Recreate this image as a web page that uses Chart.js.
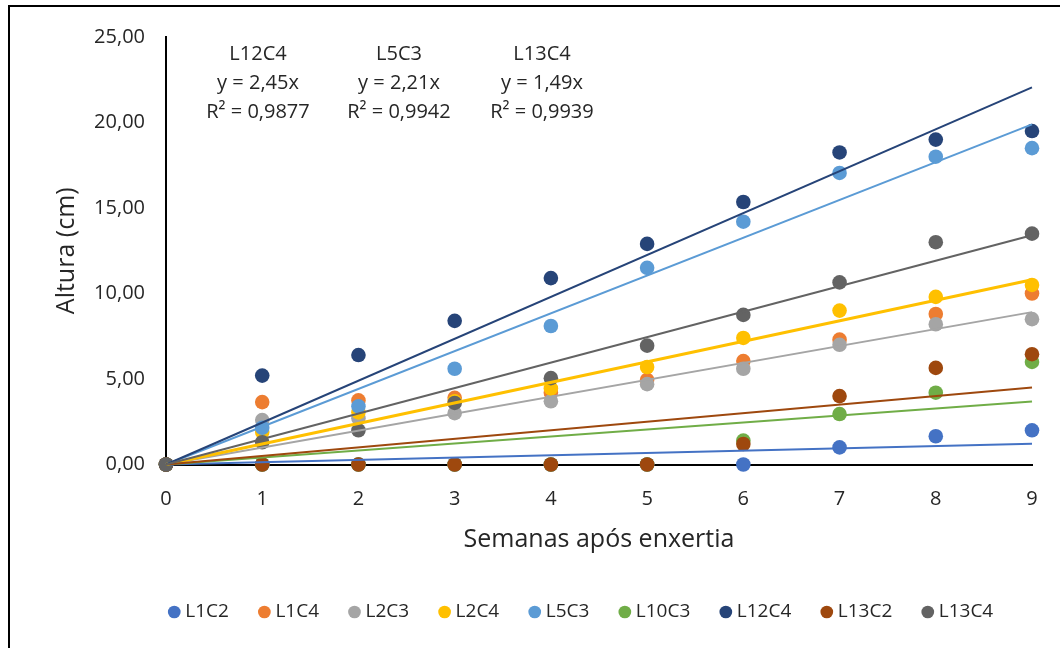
<!DOCTYPE html>
<html>
<head>
<meta charset="utf-8">
<script src="https://cdn.jsdelivr.net/npm/chart.js@4.4.1/dist/chart.umd.min.js"></script>
<style>
    html, body { margin: 0; padding: 0; background: #fff; overflow: hidden; }
    #wrap { position: relative; width: 1060px; height: 648px; overflow: hidden; }
    #frame { position: absolute; left: 8px; top: 5px; width: 1200px; height: 800px;
             border-left: 2px solid #000; border-top: 2px solid #000; }
    #box { position: absolute; left: 0; top: 0; width: 1166px; height: 648px; }
</style>
</head>
<body>
<div id="wrap">
    <div id="frame"></div>
    <div id="box"><canvas id="growthChart"></canvas></div>
</div>
<script>
// weeks after grafting (x axis)
const weeks = [0, 1, 2, 3, 4, 5, 6, 7, 8, 9];
const yTicks = [0, 5, 10, 15, 20, 25];

const seriesNames = ["L1C2", "L1C4", "L2C3", "L2C4", "L5C3", "L10C3", "L12C4", "L13C2", "L13C4"];
const seriesColors = ["#4472C4", "#ED7D31", "#A5A5A5", "#FFC000", "#5B9BD5", "#70AD47", "#264478", "#9E480E", "#636363"];

// plant height (cm) per week
const l1c2  = [0, 0, 0, 0, 0, 0, 0, 1.0, 1.65, 2.0];
const l1c4  = [0, 3.65, 3.75, 3.9, 4.2, 4.95, 6.05, 7.3, 8.8, 10.0];
const l2c3  = [0, 2.6, 2.7, 3.0, 3.7, 4.7, 5.6, 7.0, 8.2, 8.5];
const l2c4  = [0, 1.9, 3.05, 3.7, 4.45, 5.7, 7.4, 9.0, 9.8, 10.5];
const l5c3  = [0, 2.15, 3.4, 5.6, 8.1, 11.5, 14.2, 17.05, 18.0, 18.5];
const l10c3 = [0, 0, 0, 0, 0, 0, 1.4, 2.95, 4.2, 6.0];
const l12c4 = [0, 5.2, 6.4, 8.4, 10.9, 12.9, 15.35, 18.25, 19.0, 19.5];
const l13c2 = [0, 0, 0, 0, 0, 0, 1.2, 4.0, 5.65, 6.45];
const l13c4 = [0, 1.3, 2.0, 3.6, 5.05, 6.95, 8.75, 10.65, 13.0, 13.5];
const seriesValues = [l1c2, l1c4, l2c3, l2c4, l5c3, l10c3, l12c4, l13c2, l13c4];

// linear trendlines through the origin (slope), null = no trendline shown
const trendSlopes = [0.135, null, 0.99, 1.2, 2.21, 0.41, 2.45, 0.5, 1.49];

// equation labels at the top
const equationLabels = [
    ["L12C4", "y = 2,45x", "R² = 0,9877"],
    ["L5C3", "y = 2,21x", "R² = 0,9942"],
    ["L13C4", "y = 1,49x", "R² = 0,9939"],
];

const FONT = "'Open Sans', 'Noto Sans', sans-serif";
const TEXT = "#262626";

document.addEventListener("DOMContentLoaded", function () {
    Chart.defaults.font.family = FONT;
    Chart.defaults.color = TEXT;

    const datasets = [];

    // scatter points, later series on top
    seriesNames.forEach((name, i) => {
        datasets.push({
            label: name,
            data: weeks.map((w, j) => ({ x: w, y: seriesValues[i][j] })),
            backgroundColor: seriesColors[i],
            borderColor: seriesColors[i],
            pointRadius: 7.3,
            pointBorderWidth: 0,
            pointHoverRadius: 7.3,
            pointStyle: "circle",
            showLine: false,
            clip: false,
            order: 100 - i,
        });
    });

    // trendlines, drawn above the points
    trendSlopes.forEach((slope, i) => {
        if (slope === null) return;
        const last = weeks[weeks.length - 1];
        datasets.push({
            label: seriesNames[i] + " trend",
            data: [{ x: weeks[0], y: 0 }, { x: last, y: slope * last }],
            borderColor: seriesColors[i],
            borderWidth: i === 3 ? 3 : 2,
            pointRadius: 0,
            showLine: true,
            fill: false,
            clip: false,
            order: 50 - i,
        });
    });

    // equation text above the lines
    const equationPlugin = {
        id: "equations",
        afterDraw: (chart) => {
            const ctx = chart.ctx;
            const centers = [258, 399, 542];
            const rows = [54, 83, 112];
            ctx.save();
            ctx.font = "20px " + FONT;
            ctx.fillStyle = TEXT;
            ctx.textAlign = "center";
            ctx.textBaseline = "middle";
            equationLabels.forEach((lines, b) => {
                lines.forEach((txt, r) => {
                    ctx.fillText(txt, centers[b], rows[r]);
                });
            });
            ctx.restore();
        },
    };

    new Chart(document.getElementById("growthChart"), {
        type: "scatter",
        data: { datasets: datasets },
        options: {
            responsive: true,
            maintainAspectRatio: false,
            animation: false,
            layout: {
                padding: { top: 37, right: 0, bottom: 16.5, left: 0 },
            },
            scales: {
                x: {
                    type: "linear",
                    min: weeks[0],
                    max: weeks[weeks.length - 1],
                    afterBuildTicks: (s) => { s.ticks = weeks.map(v => ({ value: v })); },
                    afterFit: (s) => { s.height = 104; },
                    grid: { display: false, drawTicks: false },
                    border: { display: true, color: "#000", width: 2 },
                    ticks: {
                        padding: 23,
                        color: TEXT,
                        font: { size: 20 },
                        callback: (v) => String(v),
                    },
                    title: {
                        display: true,
                        text: "Semanas após enxertia",
                        color: TEXT,
                        font: { size: 25 },
                        padding: { top: 0, bottom: 13.5 },
                    },
                },
                y: {
                    type: "linear",
                    min: yTicks[0],
                    max: yTicks[yTicks.length - 1],
                    afterBuildTicks: (s) => { s.ticks = yTicks.map(v => ({ value: v })); },
                    afterFit: (s) => { s.width = 166; },
                    grid: { display: false, drawTicks: false },
                    border: { display: true, color: "#000", width: 2 },
                    ticks: {
                        padding: 21,
                        color: TEXT,
                        font: { size: 20 },
                        callback: (v) => v.toFixed(2).replace(".", ","),
                    },
                    title: {
                        display: true,
                        text: "Altura (cm)",
                        color: TEXT,
                        font: { size: 25 },
                        padding: { top: 52, bottom: 0 },
                    },
                },
                // empty right box so the legend sits where it does in the original
                yRight: {
                    type: "linear",
                    position: "right",
                    display: true,
                    grid: { display: false, drawTicks: false },
                    border: { display: false },
                    ticks: { display: false },
                    afterFit: (s) => { s.width = 134; },
                },
            },
            plugins: {
                legend: {
                    position: "bottom",
                    labels: {
                        usePointStyle: true,
                        boxWidth: 3,
                        boxHeight: 9,
                        padding: 34,
                        color: TEXT,
                        font: { size: 19 },
                        filter: (item) => item.datasetIndex < seriesNames.length,
                        sort: (a, b) => a.datasetIndex - b.datasetIndex,
                    },
                },
                tooltip: { enabled: false },
            },
        },
        plugins: [equationPlugin],
    });
});
</script>
</body>
</html>
